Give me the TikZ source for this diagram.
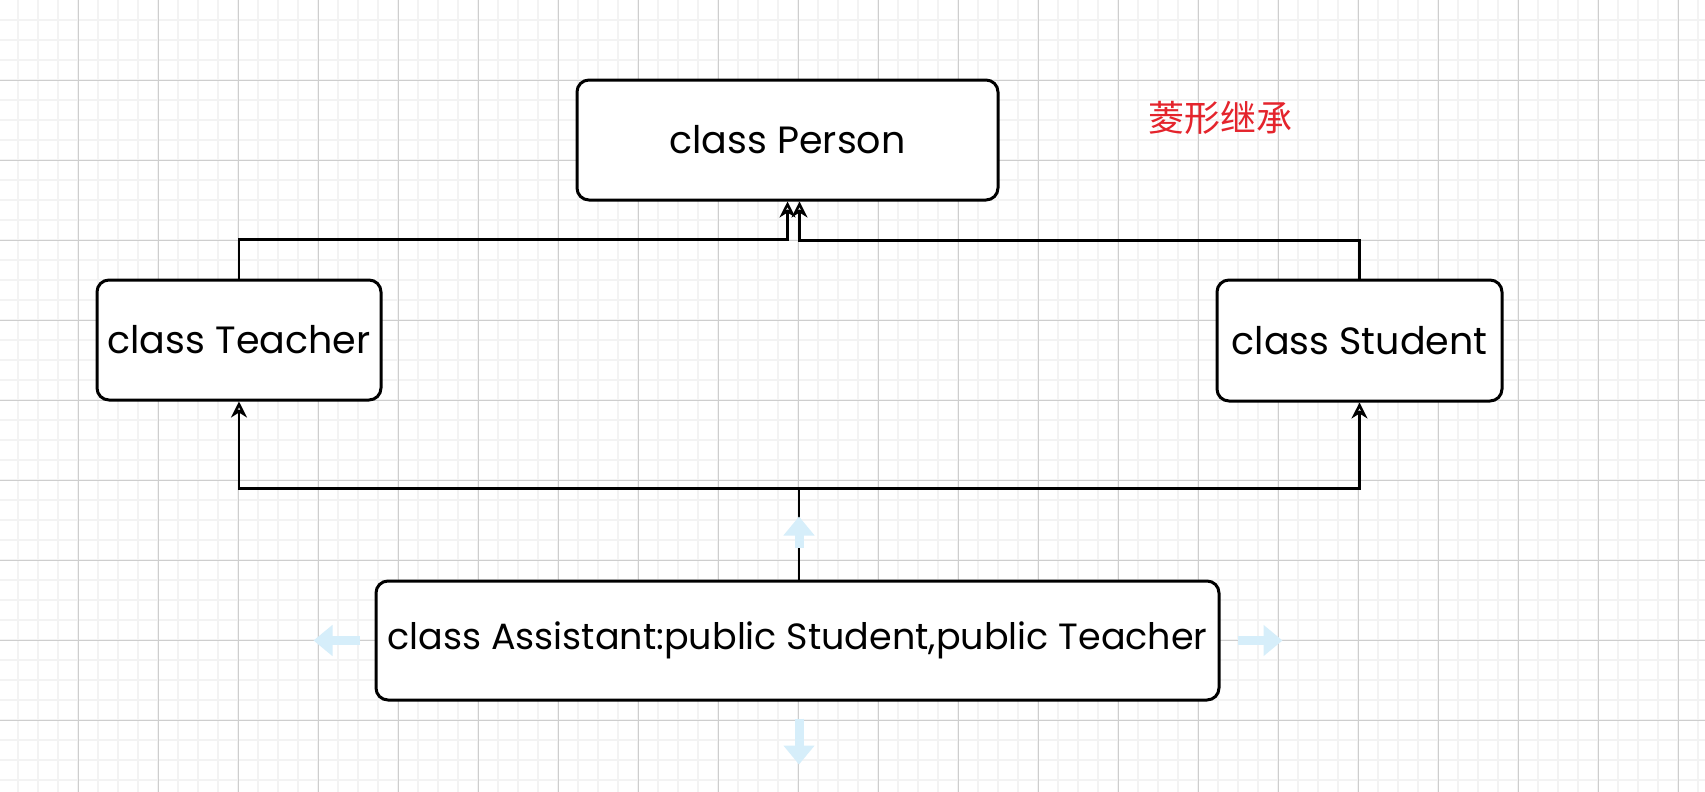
\documentclass[tikz,border=0pt]{standalone}
\usepackage{fontspec}
\setmainfont{Poppins}
\newfontfamily\cjk{Noto Sans CJK SC}
\usetikzlibrary{arrows.meta}
\definecolor{gridminor}{RGB}{243,243,243}
\definecolor{gridmajor}{RGB}{206,206,206}
\definecolor{ghost}{RGB}{214,238,250}
\definecolor{titlered}{RGB}{228,36,44}
\begin{document}
\begin{tikzpicture}[x=1pt,y=-1pt,
  cls/.style={draw,line width=3pt,rounded corners=12pt,fill=white,inner sep=0pt,font=\fontsize{38}{44}\selectfont},
  inh/.style={line width=2.5pt,-{Stealth[open,length=16pt,width=16pt,inset=5pt]}},
  ghostarrow/.style={ghost,line width=9pt,-{Triangle[length=19pt,width=30pt]}}]
  \useasboundingbox (0,0) rectangle (1705,792);
  \fill[white] (0,0) rectangle (1705,792);
  \foreach \x in {18,38,...,1705} \draw[gridminor,line width=1.3pt] (\x,0) -- (\x,792);
  \foreach \y in {20,40,...,792} \draw[gridminor,line width=1.3pt] (0,\y) -- (1705,\y);
  \foreach \x in {78,158,...,1705} \draw[gridmajor,line width=1pt] (\x,0) -- (\x,792);
  \foreach \y in {0,80,...,792} \draw[gridmajor,line width=1pt] (0,\y) -- (1705,\y);

  \node[cls,minimum width=421pt,minimum height=120pt] (P) at (787.5,140) {class Person};
  \node[cls,minimum width=284pt,minimum height=120pt] (T) at (239,340) {class Teacher};
  \node[cls,minimum width=285pt,minimum height=121pt] (S) at (1359.5,340.5) {class Student};
  \node[cls,minimum width=843pt,minimum height=119pt,font=\fontsize{36.5}{42}\selectfont] (A) at (797.5,640.5) {class Assistant:public Student,public Teacher};
  \node[text=titlered,font=\cjk\fontsize{36}{40}\selectfont] (title) at (1220,118) {菱形继承};

  \draw[inh] (T.north) -- ++(0,-39) -| (P.south);
  \draw[inh] (S.north) -- ++(0,-38) -| ([xshift=12pt]P.south);
  \draw[line width=2.5pt] ([xshift=1.5pt]A.north) -- ++(0,-91) coordinate (j);
  \draw[inh] (j) -| (T.south);
  \draw[inh] (j) -| (S.south);

  \draw[ghostarrow] ([xshift=1.5pt,yshift=32pt]A.north) -- ([xshift=1.5pt,yshift=63pt]A.north);
  \draw[ghostarrow] ([xshift=1.5pt,yshift=-17pt]A.south) -- ([xshift=1.5pt,yshift=-63pt]A.south);
  \draw[ghostarrow] ([xshift=-15pt]A.west) -- ([xshift=-61pt]A.west);
  \draw[ghostarrow] ([xshift=17pt]A.east) -- ([xshift=62pt]A.east);
\end{tikzpicture}
\end{document}
